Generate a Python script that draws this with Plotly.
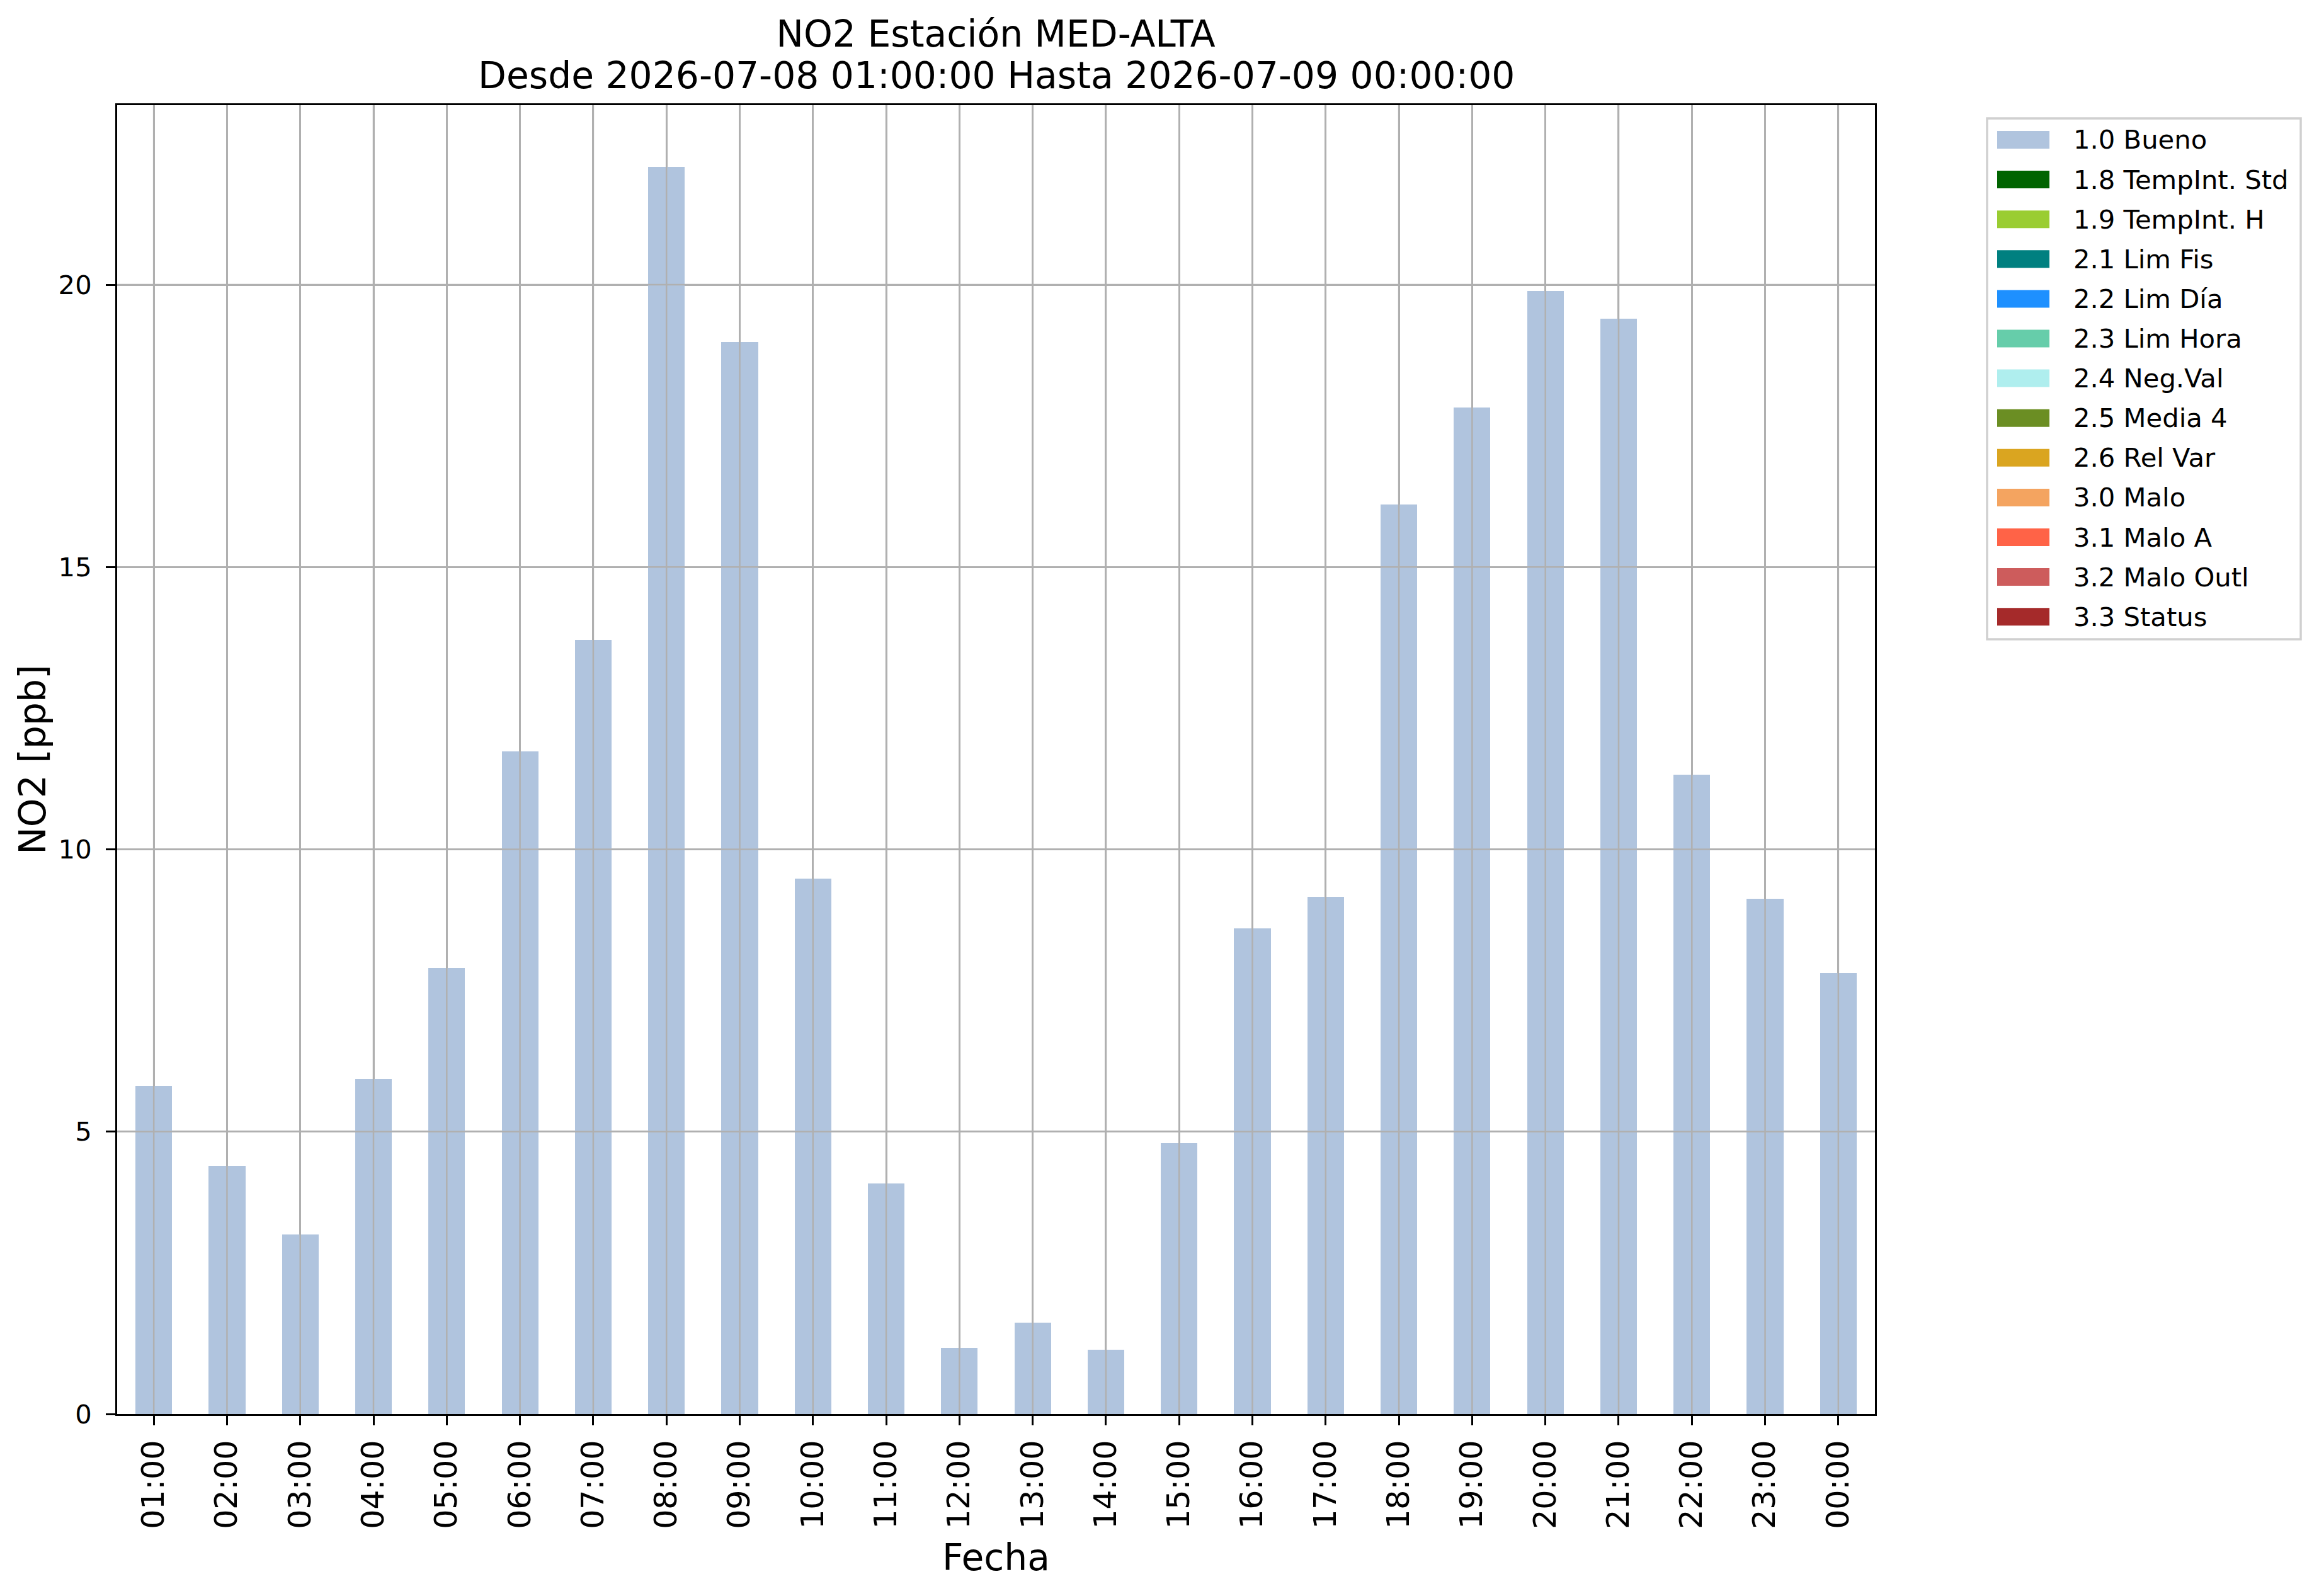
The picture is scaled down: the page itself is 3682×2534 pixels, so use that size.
import plotly.graph_objects as go

# Datos horarios NO2 (ppb)
HORAS = ["01:00", "02:00", "03:00", "04:00", "05:00", "06:00", "07:00", "08:00",
         "09:00", "10:00", "11:00", "12:00", "13:00", "14:00", "15:00", "16:00",
         "17:00", "18:00", "19:00", "20:00", "21:00", "22:00", "23:00", "00:00"]
NO2 = [5.81, 4.40, 3.18, 5.94, 7.90, 11.74, 13.71, 22.09,
       18.99, 9.48, 4.08, 1.17, 1.62, 1.14, 4.80, 8.60,
       9.16, 16.11, 17.83, 19.89, 19.40, 11.32, 9.12, 7.81]

# Banderas de calidad (leyenda)
CATEGORIAS = ["1.0 Bueno", "1.8 TempInt. Std", "1.9 TempInt. H", "2.1 Lim Fis",
              "2.2 Lim Día", "2.3 Lim Hora", "2.4 Neg.Val", "2.5 Media 4",
              "2.6 Rel Var", "3.0 Malo", "3.1 Malo A", "3.2 Malo Outl", "3.3 Status"]
COLORES = ["#B0C4DE", "#006400", "#9ACD32", "#008080", "#1E90FF", "#66CDAA",
           "#AFEEEE", "#6B8E23", "#DAA520", "#F4A460", "#FF6347", "#CD5C5C", "#A52A2A"]

Y_TICKS = [0, 5, 10, 15, 20]

TITULO = "NO2 Estación MED-ALTA"
SUBTITULO = "Desde 2026-07-08 01:00:00 Hasta 2026-07-09 00:00:00"

# Tamaño de la figura y márgenes (px); la página añade 8 px de margen al body
W, H = 3682, 2534
OFF = 8
PW, PH = 2791, 2078
L, T = 186 - OFF, 167 - OFF
R, B = W - L - PW, H - T - PH

FONT = "DejaVu Sans"
GRID = "#b0b0b0"


def px_x(px):
    # pixel de la pagina -> coordenada paper
    return (px - OFF - L) / PW


def px_y(py):
    return (T + PH - (py - OFF)) / PH


fig = go.Figure()
fig.add_trace(go.Bar(x=HORAS, y=NO2, width=0.5, name=CATEGORIAS[0],
                     marker=dict(color=COLORES[0], line=dict(width=0)),
                     showlegend=False))

# rejilla por encima de las barras (como matplotlib)
shapes = []
for h in HORAS:
    shapes.append(dict(type="line", xref="x", yref="paper", x0=h, x1=h, y0=0, y1=1,
                       line=dict(color=GRID, width=2.5), layer="above"))
for v in Y_TICKS[1:]:
    shapes.append(dict(type="line", xref="paper", yref="y", x0=0, x1=1, y0=v, y1=v,
                       line=dict(color=GRID, width=2.5), layer="above"))

# segunda linea del titulo
annotations = [dict(xref="paper", yref="paper", x=0.5, y=px_y(120),
                    text=SUBTITULO, showarrow=False, xanchor="center", yanchor="middle",
                    font=dict(family=FONT, size=58.3, color="black"))]

# leyenda dibujada a mano
shapes.append(dict(type="rect", xref="paper", yref="paper",
                   x0=px_x(3155), x1=px_x(3653), y0=px_y(1015), y1=px_y(188),
                   line=dict(color="#d0d0d0", width=3.5), fillcolor="white"))
for i, (cat, col) in enumerate(zip(CATEGORIAS, COLORES)):
    yc = 222 + 63.1 * i
    shapes.append(dict(type="rect", xref="paper", yref="paper",
                       x0=px_x(3171), x1=px_x(3254), y0=px_y(yc + 14), y1=px_y(yc - 14),
                       line=dict(width=0), fillcolor=col))
    annotations.append(dict(xref="paper", yref="paper", x=px_x(3290), y=px_y(yc),
                            text=cat, showarrow=False, xanchor="left", yanchor="middle",
                            font=dict(family=FONT, size=41.7, color="black")))

fig.update_layout(
    width=W, height=H,
    margin=dict(l=L, r=R, t=T, b=B, autoexpand=False),
    paper_bgcolor="white", plot_bgcolor="white",
    font=dict(family=FONT, color="black"),
    title=dict(text=TITULO, x=(1581 - OFF) / W, xanchor="center",
               y=1 - (54 - OFF) / H, yanchor="middle",
               font=dict(family=FONT, size=58.3, color="black")),
    showlegend=False,
    bargap=0,
    shapes=shapes,
    annotations=annotations,
)

fig.update_xaxes(
    type="category", range=[-0.5, len(HORAS) - 0.5],
    showgrid=True, gridcolor=GRID, gridwidth=2.5,
    showline=True, linecolor="black", linewidth=3, mirror=True,
    ticks="outside", ticklen=15, tickwidth=3, tickcolor="black",
    tickangle=-90, tickfont=dict(family=FONT, size=49),
    ticklabelstandoff=4,
    title=dict(text="Fecha", font=dict(family=FONT, size=58.3), standoff=26),
    automargin=False,
)
fig.update_yaxes(
    range=[0, 23.18], tickvals=Y_TICKS, zeroline=False,
    showgrid=True, gridcolor=GRID, gridwidth=2.5,
    showline=True, linecolor="black", linewidth=3, mirror=True,
    ticks="outside", ticklen=15, tickwidth=3, tickcolor="black",
    tickfont=dict(family=FONT, size=41.7),
    ticklabelstandoff=14,
    title=dict(text="NO2 [ppb]", font=dict(family=FONT, size=58.3), standoff=2),
    automargin=False,
)

fig.write_html("out.html")
